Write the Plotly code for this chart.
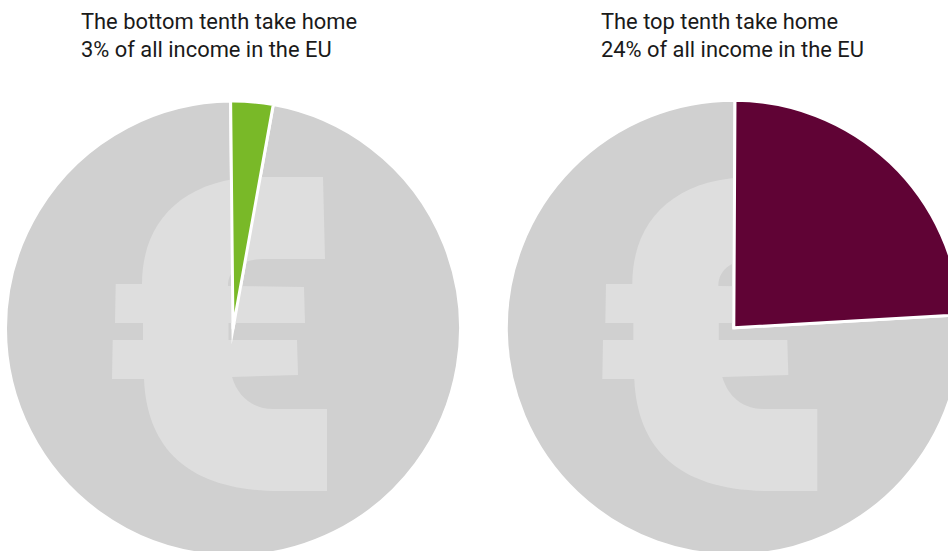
import plotly.graph_objects as go

# Income shares shown in each pie
group_labels = ["Everyone else", "Bottom tenth", "Top tenth"]
bottom_share = [97, 3]
top_share = [76, 24]
rest_colour = "#d0d0d0"
bottom_colour = "#79b928"
top_colour = "#600335"
euro_colour = "#dedede"
captions = [
    "The bottom tenth take home<br>3% of all income in the EU",
    "The top tenth take home<br>24% of all income in the EU",
]

# The canvas runs a little past the window so both discs bleed off its edges
W, H = 1000, 600
RADIUS = 227.5


def px(x):
    return x / W


def py(y):
    return 1 - y / H


def domain(cx, cy):
    return dict(x=[px(cx - RADIUS), px(cx + RADIUS)], y=[py(cy + RADIUS), py(cy - RADIUS)])


def euro_path(dx):
    """Outline of the euro sign in canvas pixels, shifted right by dx."""
    segs = [
        ("M", (263, 177)), ("L", (323, 177)), ("L", (325, 259)), ("L", (263, 259)),
        ("C", (245, 259), (228, 268), (228, 286)),
        ("L", (304, 287)), ("L", (305, 323)), ("L", (228.5, 323)), ("L", (228.5, 340)),
        ("L", (297, 340)), ("L", (298, 375)), ("L", (232, 377)),
        ("C", (238, 397), (253, 409), (273, 409)),
        ("L", (327, 409)), ("L", (327, 491)), ("L", (280, 491)),
        ("C", (190, 491), (147, 450), (144, 379)),
        ("L", (112, 379)), ("L", (112.7, 340)), ("L", (143, 340)), ("L", (143, 323)),
        ("L", (115, 323)), ("L", (115.7, 284)), ("L", (142, 284)),
        ("C", (142, 220), (185, 177), (263, 177)),
    ]
    parts = []
    for seg in segs:
        pts = " ".join(f"{px(x + dx):.5f},{py(y):.5f}" for x, y in seg[1:])
        parts.append(f"{seg[0]} {pts}")
    return " ".join(parts) + " Z"


def pie(values, labels, colour, rotation, cx, cy):
    return go.Pie(
        values=values,
        labels=labels,
        sort=False,
        direction="clockwise",
        rotation=rotation,
        marker=dict(colors=[rest_colour, colour], line=dict(color="white", width=3)),
        textinfo="none",
        hoverinfo="label+percent",
        showlegend=False,
        domain=domain(cx, cy),
    )


fig = go.Figure()
fig.add_trace(pie(bottom_share, group_labels[:2], bottom_colour, 10.2, 233, 328.5))
fig.add_trace(pie(top_share, [group_labels[0], group_labels[2]], top_colour, 86.7, 733.8, 327.8))

for dx in (0, 490.3):
    fig.add_shape(type="path", xref="paper", yref="paper", path=euro_path(dx),
                  fillcolor=euro_colour, line_width=0, layer="above")

for x, caption in zip((79, 599), captions):
    fig.add_annotation(
        text=caption, xref="paper", yref="paper", x=px(x), y=py(7),
        xanchor="left", yanchor="top", align="left", showarrow=False,
        font=dict(family="Roboto", size=21.9, color="#1a1a1a"),
    )

fig.update_layout(
    width=W, height=H, autosize=False,
    margin=dict(l=0, r=0, t=0, b=0, pad=0),
    paper_bgcolor="white", plot_bgcolor="white",
)

# Crop to the window, sharpen the wedge tips, and lift the coloured slices over the euro sign
post = """
document.documentElement.style.overflow = 'hidden';
document.body.style.overflow = 'hidden';
var gd = document.getElementById('{plot_id}');
var svgs = gd.querySelectorAll('.main-svg');
var top_svg = svgs[svgs.length - 1];
gd.querySelectorAll('.pielayer .slice').forEach(function (s) {
    s.querySelectorAll('path').forEach(function (p) { p.style.strokeMiterlimit = '20'; });
    if (s.__data__ && s.__data__.i === 1) { top_svg.appendChild(s); }
});
"""
fig.write_html("out.html", post_script=post, config={"displayModeBar": False})
